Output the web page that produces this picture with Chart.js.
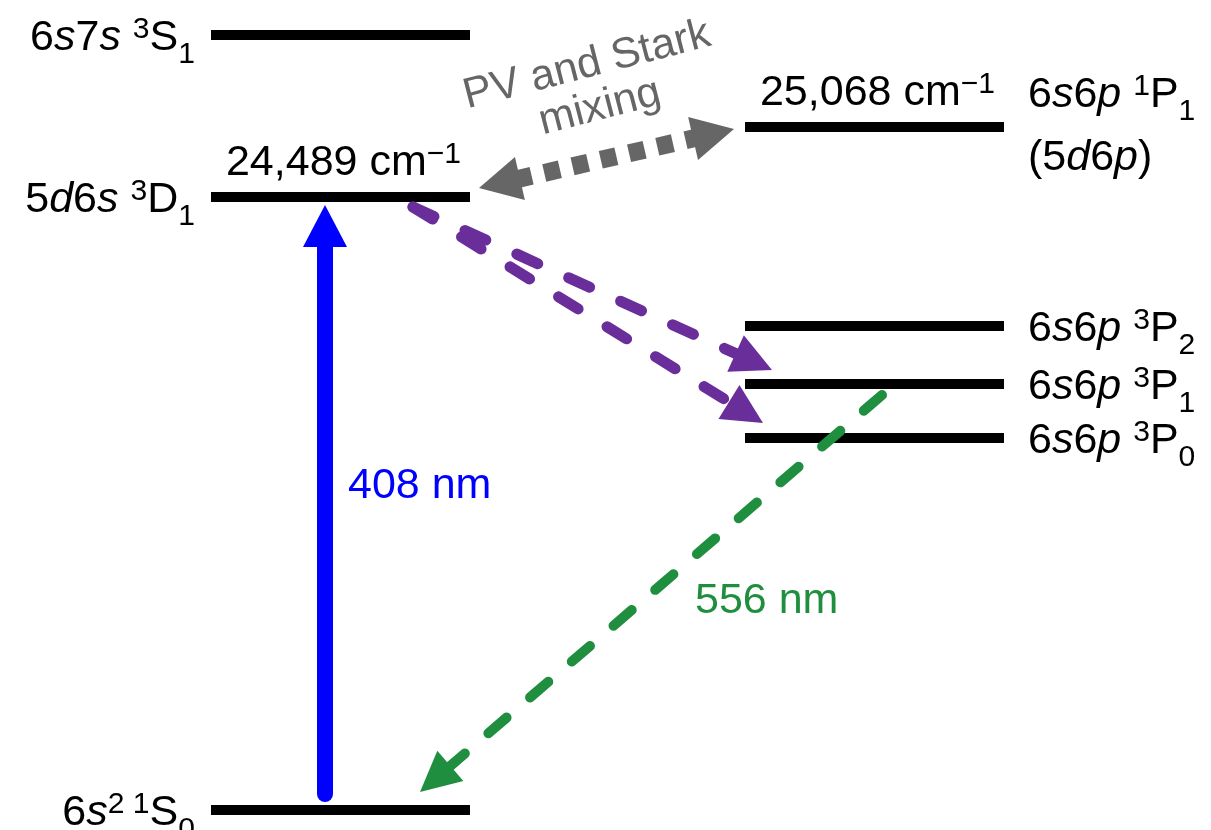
<!DOCTYPE html>
<html>
<head>
<meta charset="utf-8">
<script src="https://cdn.jsdelivr.net/npm/chart.js@4.4.1/dist/chart.umd.min.js"></script>
<style>
  html, body { margin: 0; padding: 0; background: #ffffff; }
  canvas { display: block; }
</style>
</head>
<body>
<canvas id="levels" width="1211" height="830"></canvas>
<script>
// ---- Level scheme (diagram heights in arbitrary units, ground state = 0) ----
const levelTerms   = [
  '6<i>s</i>7<i>s</i> <sup>3</sup>S<sub>1</sub>',
  '5<i>d</i>6<i>s</i> <sup>3</sup>D<sub>1</sub>',
  '6<i>s</i><sup>2 1</sup>S<sub>0</sub>',
  '6<i>s</i>6<i>p</i> <sup>1</sup>P<sub>1</sub>',
  '6<i>s</i>6<i>p</i> <sup>3</sup>P<sub>2</sub>',
  '6<i>s</i>6<i>p</i> <sup>3</sup>P<sub>1</sub>',
  '6<i>s</i>6<i>p</i> <sup>3</sup>P<sub>0</sub>'
];
const levelHeights = [775, 613, 0, 683, 484, 426, 372];
const levelColumn  = ['left', 'left', 'left', 'right', 'right', 'right', 'right'];
const levelNotes   = ['', '', '', '(5<i>d</i>6<i>p</i>)', '', '', ''];
const levelEnergy  = ['', '24,489', '', '25,068', '', '', ''];

// Column extents along the horizontal axis
const columnSpan = { left: [211, 470], right: [745, 1004] };

// ---- Transitions: [from, to] as {x, height} ----
const excitation408 = [{ x: 325, y: 16 },  { x: 325, y: 605 }];
const decay556      = [{ x: 882, y: 415 }, { x: 420, y: 18 }];
const cascadeTo3P1  = [{ x: 413, y: 603 }, { x: 772, y: 440 }];
const cascadeTo3P0  = [{ x: 413, y: 603 }, { x: 763, y: 387 }];
const starkMixing   = [{ x: 479, y: 622 }, { x: 734, y: 681 }];

const FONT = '"Liberation Sans", Arial, Helvetica, sans-serif';
const SIZE = 43;

// ---- Rich text helpers (italic, superscript, subscript) ----
function parseRich(str) {
  const out = [];
  const re = /<(i|sup|sub)>(.*?)<\/\1>|([^<]+)/g;
  let m;
  while ((m = re.exec(str))) {
    if (m[3] !== undefined) out.push({ t: m[3], k: 'n' });
    else out.push({ t: m[2], k: m[1] });
  }
  return out;
}
function segFont(seg, size) {
  const small = seg.k === 'sup' || seg.k === 'sub';
  return (seg.k === 'i' ? 'italic ' : '') + (small ? size * 0.7 : size) + 'px ' + FONT;
}
// y is the vertical centre of the capital letters
function drawRich(ctx, str, x, y, size, color, align) {
  const segs = parseRich(str);
  let w = 0;
  segs.forEach(s => { ctx.font = segFont(s, size); s.w = ctx.measureText(s.t).width; w += s.w; });
  let cx = align === 'right' ? x - w : align === 'center' ? x - w / 2 : x;
  const base = y + size * 0.716 / 2;
  ctx.save();
  ctx.fillStyle = color;
  ctx.textAlign = 'left';
  ctx.textBaseline = 'alphabetic';
  segs.forEach(s => {
    ctx.font = segFont(s, size);
    let dy = 0;
    if (s.k === 'sup') dy = -size * 0.28;
    if (s.k === 'sub') dy = size * 0.30;
    ctx.fillText(s.t, cx, base + dy);
    cx += s.w;
  });
  ctx.restore();
}

// ---- Arrowheads: shafts are trimmed back so the head sits on the tip ----
const arrowHeads = {
  id: 'arrowHeads',
  afterDatasetsUpdate(chart) {
    chart.data.datasets.forEach((ds, i) => {
      if (!ds.heads) return;
      const pts = chart.getDatasetMeta(i).data;
      const n = pts.length;
      const trim = (a, b, d) => {
        const dx = b.x - a.x, dy = b.y - a.y, L = Math.hypot(dx, dy);
        b.x -= dx / L * d; b.y -= dy / L * d;
      };
      if (ds.heads.end) trim(pts[n - 2], pts[n - 1], ds.heads.trim);
      if (ds.heads.start) trim(pts[1], pts[0], ds.heads.trim);
    });
  },
  afterDatasetsDraw(chart) {
    const ctx = chart.ctx, xs = chart.scales.x, ys = chart.scales.y;
    const px = p => ({ x: xs.getPixelForValue(p.x), y: ys.getPixelForValue(p.y) });
    const head = (from, tip, h, color) => {
      const dx = tip.x - from.x, dy = tip.y - from.y, L = Math.hypot(dx, dy);
      const ux = dx / L, uy = dy / L;
      const bx = tip.x - ux * h.len, by = tip.y - uy * h.len;
      ctx.beginPath();
      ctx.moveTo(tip.x, tip.y);
      ctx.lineTo(bx - uy * h.half, by + ux * h.half);
      ctx.lineTo(bx + uy * h.half, by - ux * h.half);
      ctx.closePath();
      ctx.fillStyle = color;
      ctx.fill();
    };
    chart.data.datasets.forEach(ds => {
      if (!ds.heads) return;
      const d = ds.data, n = d.length;
      if (ds.heads.end) head(px(d[n - 2]), px(d[n - 1]), ds.heads, ds.borderColor);
      if (ds.heads.start) head(px(d[1]), px(d[0]), ds.heads, ds.borderColor);
    });
  }
};

// ---- Level and transition labels ----
const levelLabels = {
  id: 'levelLabels',
  afterDraw(chart) {
    const ctx = chart.ctx, xs = chart.scales.x, ys = chart.scales.y;
    levelTerms.forEach((term, i) => {
      const span = columnSpan[levelColumn[i]];
      const y = ys.getPixelForValue(levelHeights[i]);
      const x0 = xs.getPixelForValue(span[0]);
      const x1 = xs.getPixelForValue(span[1]);
      if (levelColumn[i] === 'left') {
        drawRich(ctx, term, x0 - 16, y, SIZE, '#000', 'right');
      } else if (levelNotes[i]) {
        drawRich(ctx, term, x1 + 24, y - 35, SIZE, '#000', 'left');
        drawRich(ctx, levelNotes[i], x1 + 24, y + 28, SIZE, '#000', 'left');
      } else {
        drawRich(ctx, term, x1 + 24, y, SIZE, '#000', 'left');
      }
      if (levelEnergy[i]) {
        drawRich(ctx, levelEnergy[i] + ' cm<sup>\u22121</sup>', (x0 + x1) / 2 + 3, y - 37, SIZE, '#000', 'center');
      }
    });

    // wavelength labels beside their transitions
    drawRich(ctx, '408 nm', xs.getPixelForValue(348), ys.getPixelForValue(327), SIZE, '#0000ff', 'left');
    drawRich(ctx, '556 nm', xs.getPixelForValue(695), ys.getPixelForValue(212), SIZE, '#1f8f3f', 'left');

    // mixing annotation, tilted along the coupling arrow
    ctx.save();
    ctx.translate(xs.getPixelForValue(586), ys.getPixelForValue(748));
    ctx.rotate(-14.5 * Math.PI / 180);
    drawRich(ctx, 'PV and Stark', 0, 0, SIZE, '#666666', 'center');
    drawRich(ctx, 'mixing', 2, 44, SIZE, '#666666', 'center');
    ctx.restore();
  }
};

// ---- Datasets ----
const levelSets = levelTerms.map((term, i) => {
  const span = columnSpan[levelColumn[i]];
  return {
    label: term,
    data: [{ x: span[0], y: levelHeights[i] }, { x: span[1], y: levelHeights[i] }],
    showLine: true, borderColor: '#000000', borderWidth: 10, borderCapStyle: 'butt',
    pointRadius: 0, fill: false, order: 2
  };
});

const transitionSets = [
  { label: '408 nm', data: excitation408, borderColor: '#0000ff', borderWidth: 16,
    borderCapStyle: 'round', heads: { end: true, len: 42, half: 22, trim: 36 } },
  { label: '556 nm', data: decay556, borderColor: '#1f8f3f', borderWidth: 10,
    borderCapStyle: 'round', borderDash: [24, 31], heads: { end: true, len: 40, half: 20, trim: 30 } },
  { label: 'to 3P1', data: cascadeTo3P1, borderColor: '#6a2e9a', borderWidth: 11,
    borderCapStyle: 'round', borderDash: [23, 34], heads: { end: true, len: 40, half: 20, trim: 30 } },
  { label: 'to 3P0', data: cascadeTo3P0, borderColor: '#6a2e9a', borderWidth: 11,
    borderCapStyle: 'round', borderDash: [23, 34], heads: { end: true, len: 40, half: 20, trim: 30 } },
  { label: 'mixing', data: starkMixing, borderColor: '#666666', borderWidth: 18,
    borderCapStyle: 'butt', borderDash: [16, 13], heads: { start: true, end: true, len: 42, half: 22, trim: 38 } }
].map(ds => Object.assign({ showLine: true, pointRadius: 0, fill: false, order: 1 }, ds));

new Chart(document.getElementById('levels'), {
  type: 'scatter',
  data: { datasets: levelSets.concat(transitionSets) },
  options: {
    responsive: false,
    animation: false,
    events: [],
    layout: { padding: 0 },
    plugins: { legend: { display: false }, tooltip: { enabled: false } },
    scales: {
      x: { type: 'linear', min: 0, max: 1211, display: false },
      y: { type: 'linear', min: -20, max: 810, display: false }
    }
  },
  plugins: [arrowHeads, levelLabels]
});
</script>
</body>
</html>
